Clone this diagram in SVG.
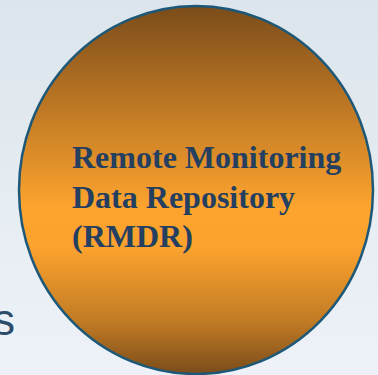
<svg xmlns="http://www.w3.org/2000/svg" width="378" height="375" viewBox="0 0 378 375">
  <defs>
    <linearGradient id="bg" x1="0" y1="0" x2="0" y2="1">
      <stop offset="0" stop-color="#dbe5eb"/>
      <stop offset="1" stop-color="#eef2f8"/>
    </linearGradient>
    <linearGradient id="orb" x1="0" y1="0" x2="0" y2="1">
      <stop offset="0" stop-color="#7a4c1a"/>
      <stop offset="0.25" stop-color="#b87423"/>
      <stop offset="0.55" stop-color="#fda42e"/>
      <stop offset="0.66" stop-color="#fba22e"/>
      <stop offset="0.86" stop-color="#c07a24"/>
      <stop offset="1" stop-color="#7a4c1a"/>
    </linearGradient>
    <style>
      .label { font-family: "Liberation Serif", "Times New Roman", serif; font-weight: bold; font-size: 32px; fill: #243f60; }
      .side { font-family: "Liberation Sans", Arial, sans-serif; font-size: 44px; fill: #2b4d6b; }
    </style>
  </defs>
  <rect width="378" height="375" fill="url(#bg)"/>
  <!-- tail of a heading that runs in from the left edge -->
  <text class="side" x="15" y="335" text-anchor="end">s</text>
  <g id="rmdr">
    <ellipse cx="196" cy="190" rx="177" ry="184" fill="url(#orb)" stroke="#1d5878" stroke-width="2.5"/>
    <text class="label" x="72" y="168">Remote Monitoring</text>
    <text class="label" x="72" y="208">Data Repository</text>
    <text class="label" x="72" y="247">(RMDR)</text>
  </g>
</svg>
